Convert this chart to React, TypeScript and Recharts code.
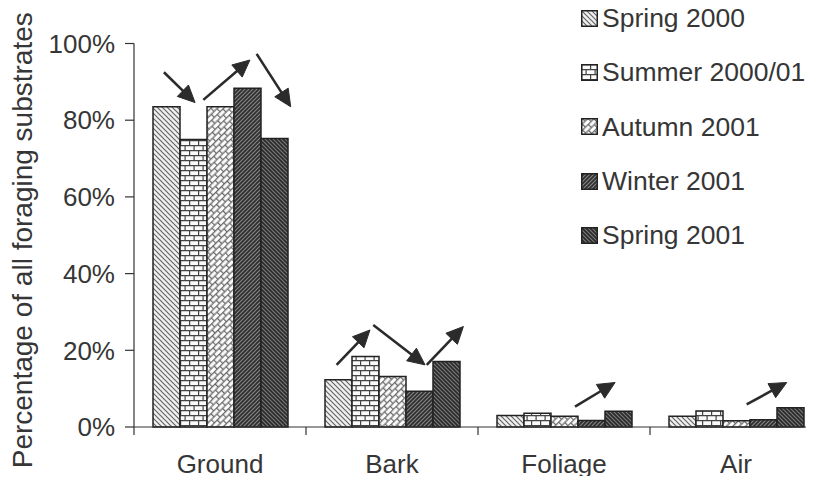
import React from 'react';
import { BarChart, Bar, XAxis, YAxis, Legend, ReferenceLine } from 'recharts';

const categories = ['Ground', 'Bark', 'Foliage', 'Air'];
const seriesNames = ['Spring 2000', 'Summer 2000/01', 'Autumn 2001', 'Winter 2001', 'Spring 2001'];
const spring2000 = [83.5, 12.3, 3.0, 2.8];
const summer2000 = [75.0, 18.4, 3.6, 4.2];
const autumn2001 = [83.5, 13.2, 2.8, 1.6];
const winter2001 = [88.3, 9.3, 1.7, 1.9];
const spring2001 = [75.2, 17.1, 4.1, 5.0];
const yTicks = [0, 20, 40, 60, 80, 100];
const boundaryTicks = [0, 1, 2, 3];

// annotation arrows: [fromX, fromY, toX, toY] in (category-index, percent) units
const arrows = [
  [0.174, 92.5, 0.355, 84.6],
  [0.403, 85.3, 0.674, 95.7],
  [0.713, 97.3, 0.911, 83.5],
  [1.178, 16.2, 1.372, 25.3],
  [1.391, 26.6, 1.692, 16.2],
  [1.702, 16.2, 1.915, 26.2],
  [2.564, 5.3, 2.797, 11.6],
  [3.562, 5.9, 3.795, 11.6],
];

const seriesValues = [spring2000, summer2000, autumn2001, winter2001, spring2001];
const keys = ['s0', 's1', 's2', 's3', 's4'];
const patternIds = ['p1', 'p2', 'p3', 'p4', 'p5'];

const data = categories.map((c, i) => {
  const row: any = { name: c, idx: i };
  keys.forEach((k, j) => { row[k] = seriesValues[j][i]; });
  return row;
});

const FONT = '"Liberation Sans", Arial, Helvetica, sans-serif';
const TEXT = '#363636';

const Patterns = () => (
  <svg width={0} height={0} style={{ position: 'absolute' }}>
    <defs>
      <pattern id="p1" patternUnits="userSpaceOnUse" width={5} height={5}>
        <rect width={5} height={5} fill="#f0f0f0" />
        <path d="M0,0 L5,5 M-1,4 L1,6 M4,-1 L6,1" stroke="#666" strokeWidth={1.2} />
      </pattern>
      <pattern id="p2" patternUnits="userSpaceOnUse" width={9} height={10}>
        <rect width={9} height={10} fill="#fafafa" />
        <path d="M0,0.6 L9,0.6 M0,5.6 L9,5.6 M0.6,0 L0.6,5.6 M5.1,5.6 L5.1,10" stroke="#444" strokeWidth={1.2} />
      </pattern>
      <pattern id="p3" patternUnits="userSpaceOnUse" width={8} height={9} patternTransform="rotate(-45)">
        <rect width={8} height={9} fill="#fcfcfc" />
        <path d="M0,0.6 L8,0.6 M0,5.1 L8,5.1 M0.6,0 L0.6,5.1 M4.6,5.1 L4.6,9" stroke="#666" strokeWidth={1.2} />
      </pattern>
      <pattern id="p4" patternUnits="userSpaceOnUse" width={4} height={4}>
        <rect width={4} height={4} fill="#858585" />
        <path d="M0,4 L4,0 M-1,1 L1,-1 M3,5 L5,3" stroke="#2e2e2e" strokeWidth={1.7} />
      </pattern>
      <pattern id="p5" patternUnits="userSpaceOnUse" width={4} height={4}>
        <rect width={4} height={4} fill="#7a7a7a" />
        <path d="M0,0 L4,4 M-1,3 L1,5 M3,-1 L5,1" stroke="#2a2a2a" strokeWidth={1.7} />
      </pattern>
    </defs>
  </svg>
);

const ArrowShape = (p: any) => {
  const { x1, y1, x2, y2 } = p;
  if ([x1, y1, x2, y2].some((v) => typeof v !== 'number' || isNaN(v))) return null;
  const dx = x2 - x1;
  const dy = y2 - y1;
  const len = Math.hypot(dx, dy) || 1;
  const ux = dx / len;
  const uy = dy / len;
  const L = 17;
  const W = 8;
  const bx = x2 - ux * L;
  const by = y2 - uy * L;
  const pts = `${x2},${y2} ${bx - uy * W},${by + ux * W} ${bx + uy * W},${by - ux * W}`;
  return (
    <g>
      <line x1={x1} y1={y1} x2={bx + ux * 2} y2={by + uy * 2} stroke="#2b2b2b" strokeWidth={2.6} />
      <polygon points={pts} fill="#2b2b2b" stroke="#2b2b2b" strokeWidth={1} strokeLinejoin="round" />
    </g>
  );
};

const TickShape = (p: any) => {
  const { x1, y1, x2, y2 } = p;
  return <line x1={x1} y1={y1} x2={x2} y2={y2} stroke="#333" strokeWidth={1.2} />;
};

const YLabel = (props: any) => {
  const vb = props.viewBox || { x: 14, y: 43.5, width: 120, height: 383.5 };
  const x = vb.x + 8;
  const y = vb.y + vb.height / 2 + 5;
  return (
    <text
      x={x}
      y={y}
      transform={`rotate(-90, ${x}, ${y})`}
      textAnchor="middle"
      dominantBaseline="central"
      fill={TEXT}
      fontSize={28}
      fontFamily={FONT}
    >
      Percentage of all foraging substrates
    </text>
  );
};

const renderLegend = () => (
  <div style={{ fontFamily: FONT }}>
    {seriesNames.map((n, i) => (
      <div key={n} style={{ display: 'flex', alignItems: 'center', height: 54.3 }}>
        <svg width={17} height={17} style={{ display: 'block' }}>
          <rect x={0.75} y={0.75} width={15.5} height={15.5} fill={`url(#${patternIds[i]})`} stroke="#222" strokeWidth={1.5} />
        </svg>
        <span style={{ marginLeft: 4, fontSize: 26.5, color: TEXT, whiteSpace: 'nowrap', lineHeight: '30px' }}>{n}</span>
      </div>
    ))}
  </div>
);

export default function App() {
  return (
    <div style={{ margin: -8, width: 814, height: 484, overflow: 'hidden', position: 'relative', background: '#fff', fontFamily: FONT }}>
      <Patterns />
      <BarChart
        width={830}
        height={484}
        data={data}
        margin={{ top: 43.5, right: 8, bottom: 7, left: 14 }}
        barCategoryGap={19}
        barGap={0}
      >
        <XAxis
          dataKey="name"
          tickLine={false}
          tickSize={8}
          tickMargin={20}
          height={50}
          axisLine={{ stroke: '#333', strokeWidth: 1.2 }}
          tick={{ fill: TEXT, fontSize: 26, fontFamily: FONT }}
          interval={0}
        />
        <XAxis xAxisId="num" dataKey="idx" type="number" domain={[0, 4]} hide allowDataOverflow />
        <YAxis
          domain={[0, 100]}
          ticks={yTicks}
          tickFormatter={(v: number) => `${v}%`}
          width={120}
          tickSize={9}
          tickMargin={10}
          axisLine={{ stroke: '#333', strokeWidth: 1.2 }}
          tickLine={{ stroke: '#333', strokeWidth: 1.2 }}
          tick={{ fill: TEXT, fontSize: 26, fontFamily: FONT }}
          label={<YLabel />}
          interval={0}
        />
        {keys.map((k, j) => (
          <Bar
            key={k}
            dataKey={k}
            name={seriesNames[j]}
            fill={`url(#${patternIds[j]})`}
            stroke="#222"
            strokeWidth={1.5}
            isAnimationActive={false}
          />
        ))}
        {boundaryTicks.map((b) => (
          <ReferenceLine
            key={`t${b}`}
            xAxisId="num"
            segment={[{ x: b, y: 0 }, { x: b, y: -2.1 }]}
            ifOverflow="visible"
            shape={<TickShape />}
          />
        ))}
        {arrows.map((a, i) => (
          <ReferenceLine
            key={`a${i}`}
            xAxisId="num"
            segment={[{ x: a[0], y: a[1] }, { x: a[2], y: a[3] }]}
            ifOverflow="visible"
            shape={<ArrowShape />}
          />
        ))}
        <Legend
          layout="horizontal"
          verticalAlign="middle"
          align="center"
          content={renderLegend}
          wrapperStyle={{ position: 'absolute', left: 581, top: -9, width: 240, height: 280 }}
        />
      </BarChart>
    </div>
  );
}
